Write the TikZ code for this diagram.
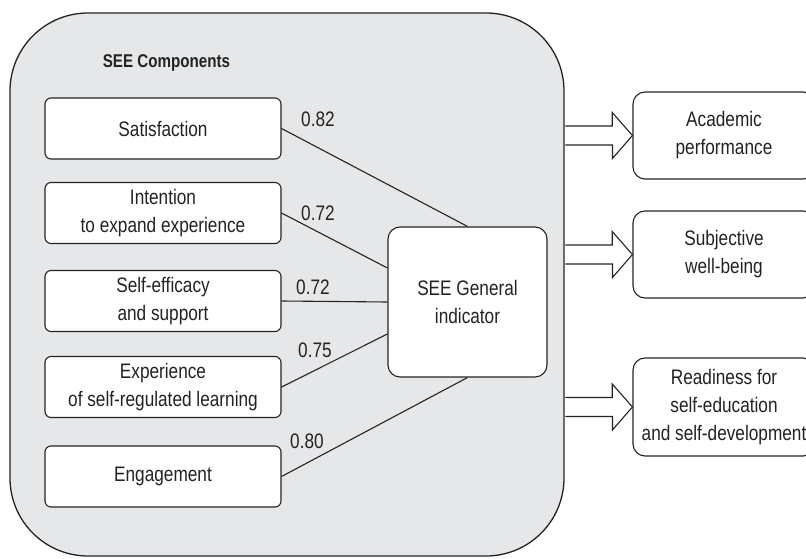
\documentclass[tikz,border=0pt]{standalone}
\usepackage{fontspec}
\setmainfont{Liberation Sans}[FakeStretch=0.82]
\usetikzlibrary{calc}
\definecolor{panel}{RGB}{230,231,233}
\definecolor{ink}{RGB}{35,35,35}
\begin{document}
\begin{tikzpicture}[x=1pt,y=-1pt,
  txt/.style={font=\fontsize{21}{28}\selectfont, text=ink, align=center},
  compbox/.style={txt, draw=ink, line width=1.1pt, fill=white, rounded corners=6, minimum width=236, minimum height=61, inner sep=0},
  outbox/.style={txt, draw=ink, line width=1.1pt, fill=white, rounded corners=12, minimum width=182, inner sep=0},
  link/.style={draw=ink, line width=1.1pt},
  wlabel/.style={font=\fontsize{21}{24}\selectfont, text=ink, inner sep=0},
  barrow/.style={draw=ink, line width=1.1pt, fill=white, line join=miter}
]
\useasboundingbox (0,0) rectangle (806,559);
\node[draw=ink, line width=1.3pt, fill=panel, rounded corners=78, minimum width=554, minimum height=543, inner sep=0] (comp) at (287,284.5) {};
\node[font=\fontsize{18.5}{22}\selectfont\bfseries, text=ink, inner sep=0] (title) at (166.5,63) {SEE Components};

\node[compbox] (sat) at (163,128.5) {Satisfaction};
\node[compbox] (int) at (163,213) {Intention\\to expand experience};
\node[compbox] (eff) at (163,301) {Self-efficacy\\and support};
\node[compbox] (exp) at (163,387) {Experience\\of self-regulated learning};
\node[compbox] (eng) at (163,476.5) {Engagement};

\node[txt, draw=ink, line width=1.1pt, fill=white, rounded corners=12, minimum width=159, minimum height=150, inner sep=0] (gen) at (467.5,302) {SEE General\\indicator};

\draw[link] (sat.east) -- (gen.north);
\draw[link] (int.east) -- ($(gen.west)+(0,-34)$);
\draw[link] (eff.east) -- (gen.west);
\draw[link] (exp.east) -- ($(gen.west)+(0,32)$);
\draw[link] (eng.east) -- (gen.south);

\node[wlabel] (l1) at (318,119) {0.82};
\node[wlabel] (l2) at (318,213) {0.72};
\node[wlabel] (l3) at (313,287) {0.72};
\node[wlabel] (l4) at (315,350) {0.75};
\node[wlabel] (l5) at (307,441) {0.80};

\node[outbox, minimum height=87] (o1) at (724,135.5) {Academic\\performance};
\node[outbox, minimum height=87] (o2) at (724,254.5) {Subjective\\well-being};
\node[outbox, minimum height=98] (o3) at (724,407) {Readiness for\\self-education\\and self-development};

\foreach \o in {o1,o2,o3}{
  \draw[barrow] ($(comp.east|-\o.west)+(0.8,9.5)$) -- ++(47,0) -- ++(0,13.5) -- (\o.west) -- ++(-20.2,-23) -- ++(0,13.5) -- ++(-47,0);
}
\end{tikzpicture}
\end{document}
